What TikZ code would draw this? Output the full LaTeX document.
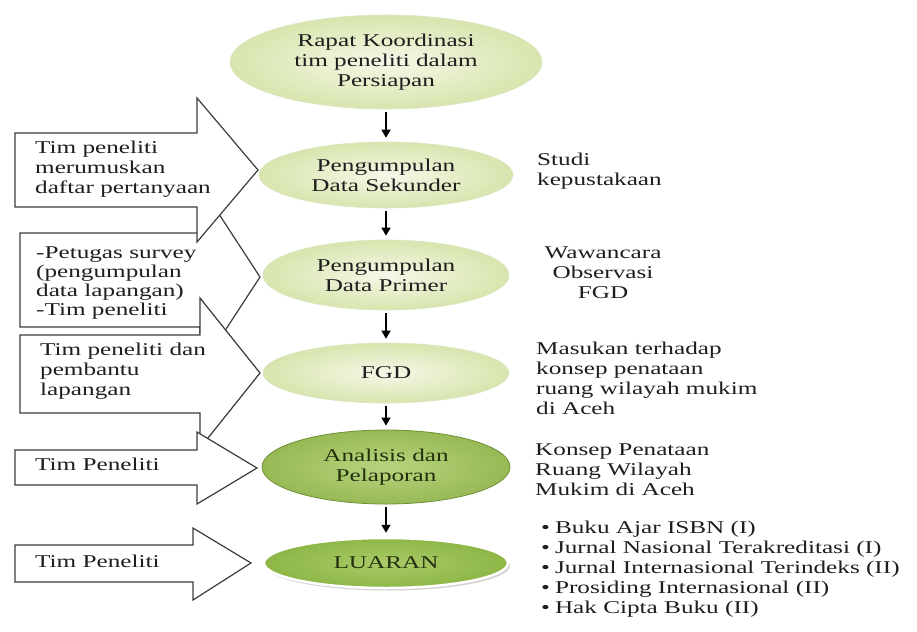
\documentclass[tikz,border=0pt]{standalone}
\usepackage{fontspec}
\setmainfont{Liberation Serif}[FakeStretch=1.4]
\usetikzlibrary{shapes.geometric,arrows.meta,shadows}
\definecolor{txt}{HTML}{1E1E1E}
\definecolor{darktxt}{HTML}{26300F}
\definecolor{lightin}{HTML}{F6F8E8}
\definecolor{lightout}{HTML}{D7E5AE}
\definecolor{lightrim}{HTML}{DCE6C0}
\definecolor{midin}{HTML}{B8D47E}
\definecolor{midout}{HTML}{97B955}
\definecolor{midrim}{HTML}{6F9135}
\definecolor{darkin}{HTML}{AACB68}
\definecolor{darkout}{HTML}{8DB646}
\definecolor{arrline}{HTML}{3C3C3C}
\begin{document}
\begin{tikzpicture}[x=1pt,y=-1pt,
  every node/.style={font=\fontsize{18}{20}\selectfont, text=txt, inner sep=0pt},
  lightell/.style={ellipse, shading=radial, inner color=lightin, outer color=lightout, draw=lightrim, line width=0.6pt, align=center},
  blockarrow/.style={draw=arrline, fill=white, line width=1.2pt, line join=miter},
  flow/.style={-{Triangle[width=9pt,length=8pt]}, line width=1.5pt, black, shorten <=3pt, shorten >=4pt},
  lbl/.style={align=left, anchor=west}
]
\useasboundingbox (0,0) rectangle (917,631);
\fill[white] (0,0) rectangle (917,631);

% ellipses (flow steps)
\node[lightell, minimum width=312pt, minimum height=94pt] (e1) at (386,62)
  {Rapat Koordinasi\\tim peneliti dalam\\Persiapan};
\node[lightell, minimum width=254pt, minimum height=66pt] (e2) at (386,175)
  {Pengumpulan\\Data Sekunder};
\node[lightell, minimum width=246pt, minimum height=70pt] (e3) at (386,275)
  {Pengumpulan\\Data Primer};
\node[lightell, minimum width=246pt, minimum height=60pt] (e4) at (386,373)
  {FGD};
\node[ellipse, shading=radial, inner color=midin, outer color=midout, draw=midrim, line width=0.8pt,
      minimum width=248pt, minimum height=74pt, align=center, text=darktxt] (e5) at (386,467)
  {Analisis dan\\Pelaporan};
\node[ellipse, shading=radial, inner color=darkin, outer color=darkout, draw=white, line width=2.5pt,
      drop shadow={shadow xshift=2pt, shadow yshift=-2.5pt, opacity=0.35},
      minimum width=244pt, minimum height=50pt, text=darktxt] (e6) at (386,563)
  {LUARAN};

% connectors
\draw[flow] (e1) -- (e2);
\draw[flow] (e2) -- (e3);
\draw[flow] (e3) -- (e4);
\draw[flow] (e4) -- (e5);
\draw[flow] (e5) -- (e6);

% block arrows (order matters for overlaps)
\draw[blockarrow] (20,233) -- (200,233) -- (200,185) -- (260,277) -- (200,369) -- (200,327) -- (20,327) -- cycle;
\draw[blockarrow] (15,133) -- (197,133) -- (197,98) -- (258,170) -- (197,242) -- (197,207) -- (15,207) -- cycle;
\draw[blockarrow] (20,335) -- (200,335) -- (200,298) -- (260,373) -- (200,448) -- (200,413) -- (20,413) -- cycle;
\draw[blockarrow] (15,450) -- (197,450) -- (197,432) -- (257,468) -- (197,504) -- (197,485) -- (15,485) -- cycle;
\draw[blockarrow] (15,545) -- (193,545) -- (193,528) -- (251,563) -- (193,600) -- (193,582) -- (15,582) -- cycle;

% texts in block arrows
\node[lbl] (a1) at (35,169) {Tim peneliti\\merumuskan\\daftar pertanyaan};
\node[lbl, font=\fontsize{18}{19}\selectfont] (a2) at (36,283) {-Petugas survey\\(pengumpulan\\data lapangan)\\-Tim peneliti};
\node[lbl] (a3) at (40,371) {Tim peneliti dan\\pembantu\\lapangan};
\node[lbl] (a4) at (35,464) {Tim Peneliti};
\node[lbl] (a5) at (35,561) {Tim Peneliti};

% right-hand notes
\node[lbl] (r1) at (537,171) {Studi\\kepustakaan};
\node[align=center] (r2) at (603,273) {Wawancara\\Observasi\\FGD};
\node[lbl] (r3) at (536,378) {Masukan terhadap\\konsep penataan\\ruang wilayah mukim\\di Aceh};
\node[lbl] (r4) at (535,470) {Konsep Penataan\\Ruang Wilayah\\Mukim di Aceh};
\node[lbl] (r5) at (541,569) {\textbullet\hspace{5pt}Buku Ajar ISBN (I)\\
  \textbullet\hspace{5pt}Jurnal Nasional Terakreditasi (I)\\
  \textbullet\hspace{5pt}Jurnal Internasional Terindeks (II)\\
  \textbullet\hspace{5pt}Prosiding Internasional (II)\\
  \textbullet\hspace{5pt}Hak Cipta Buku (II)};
\end{tikzpicture}
\end{document}
